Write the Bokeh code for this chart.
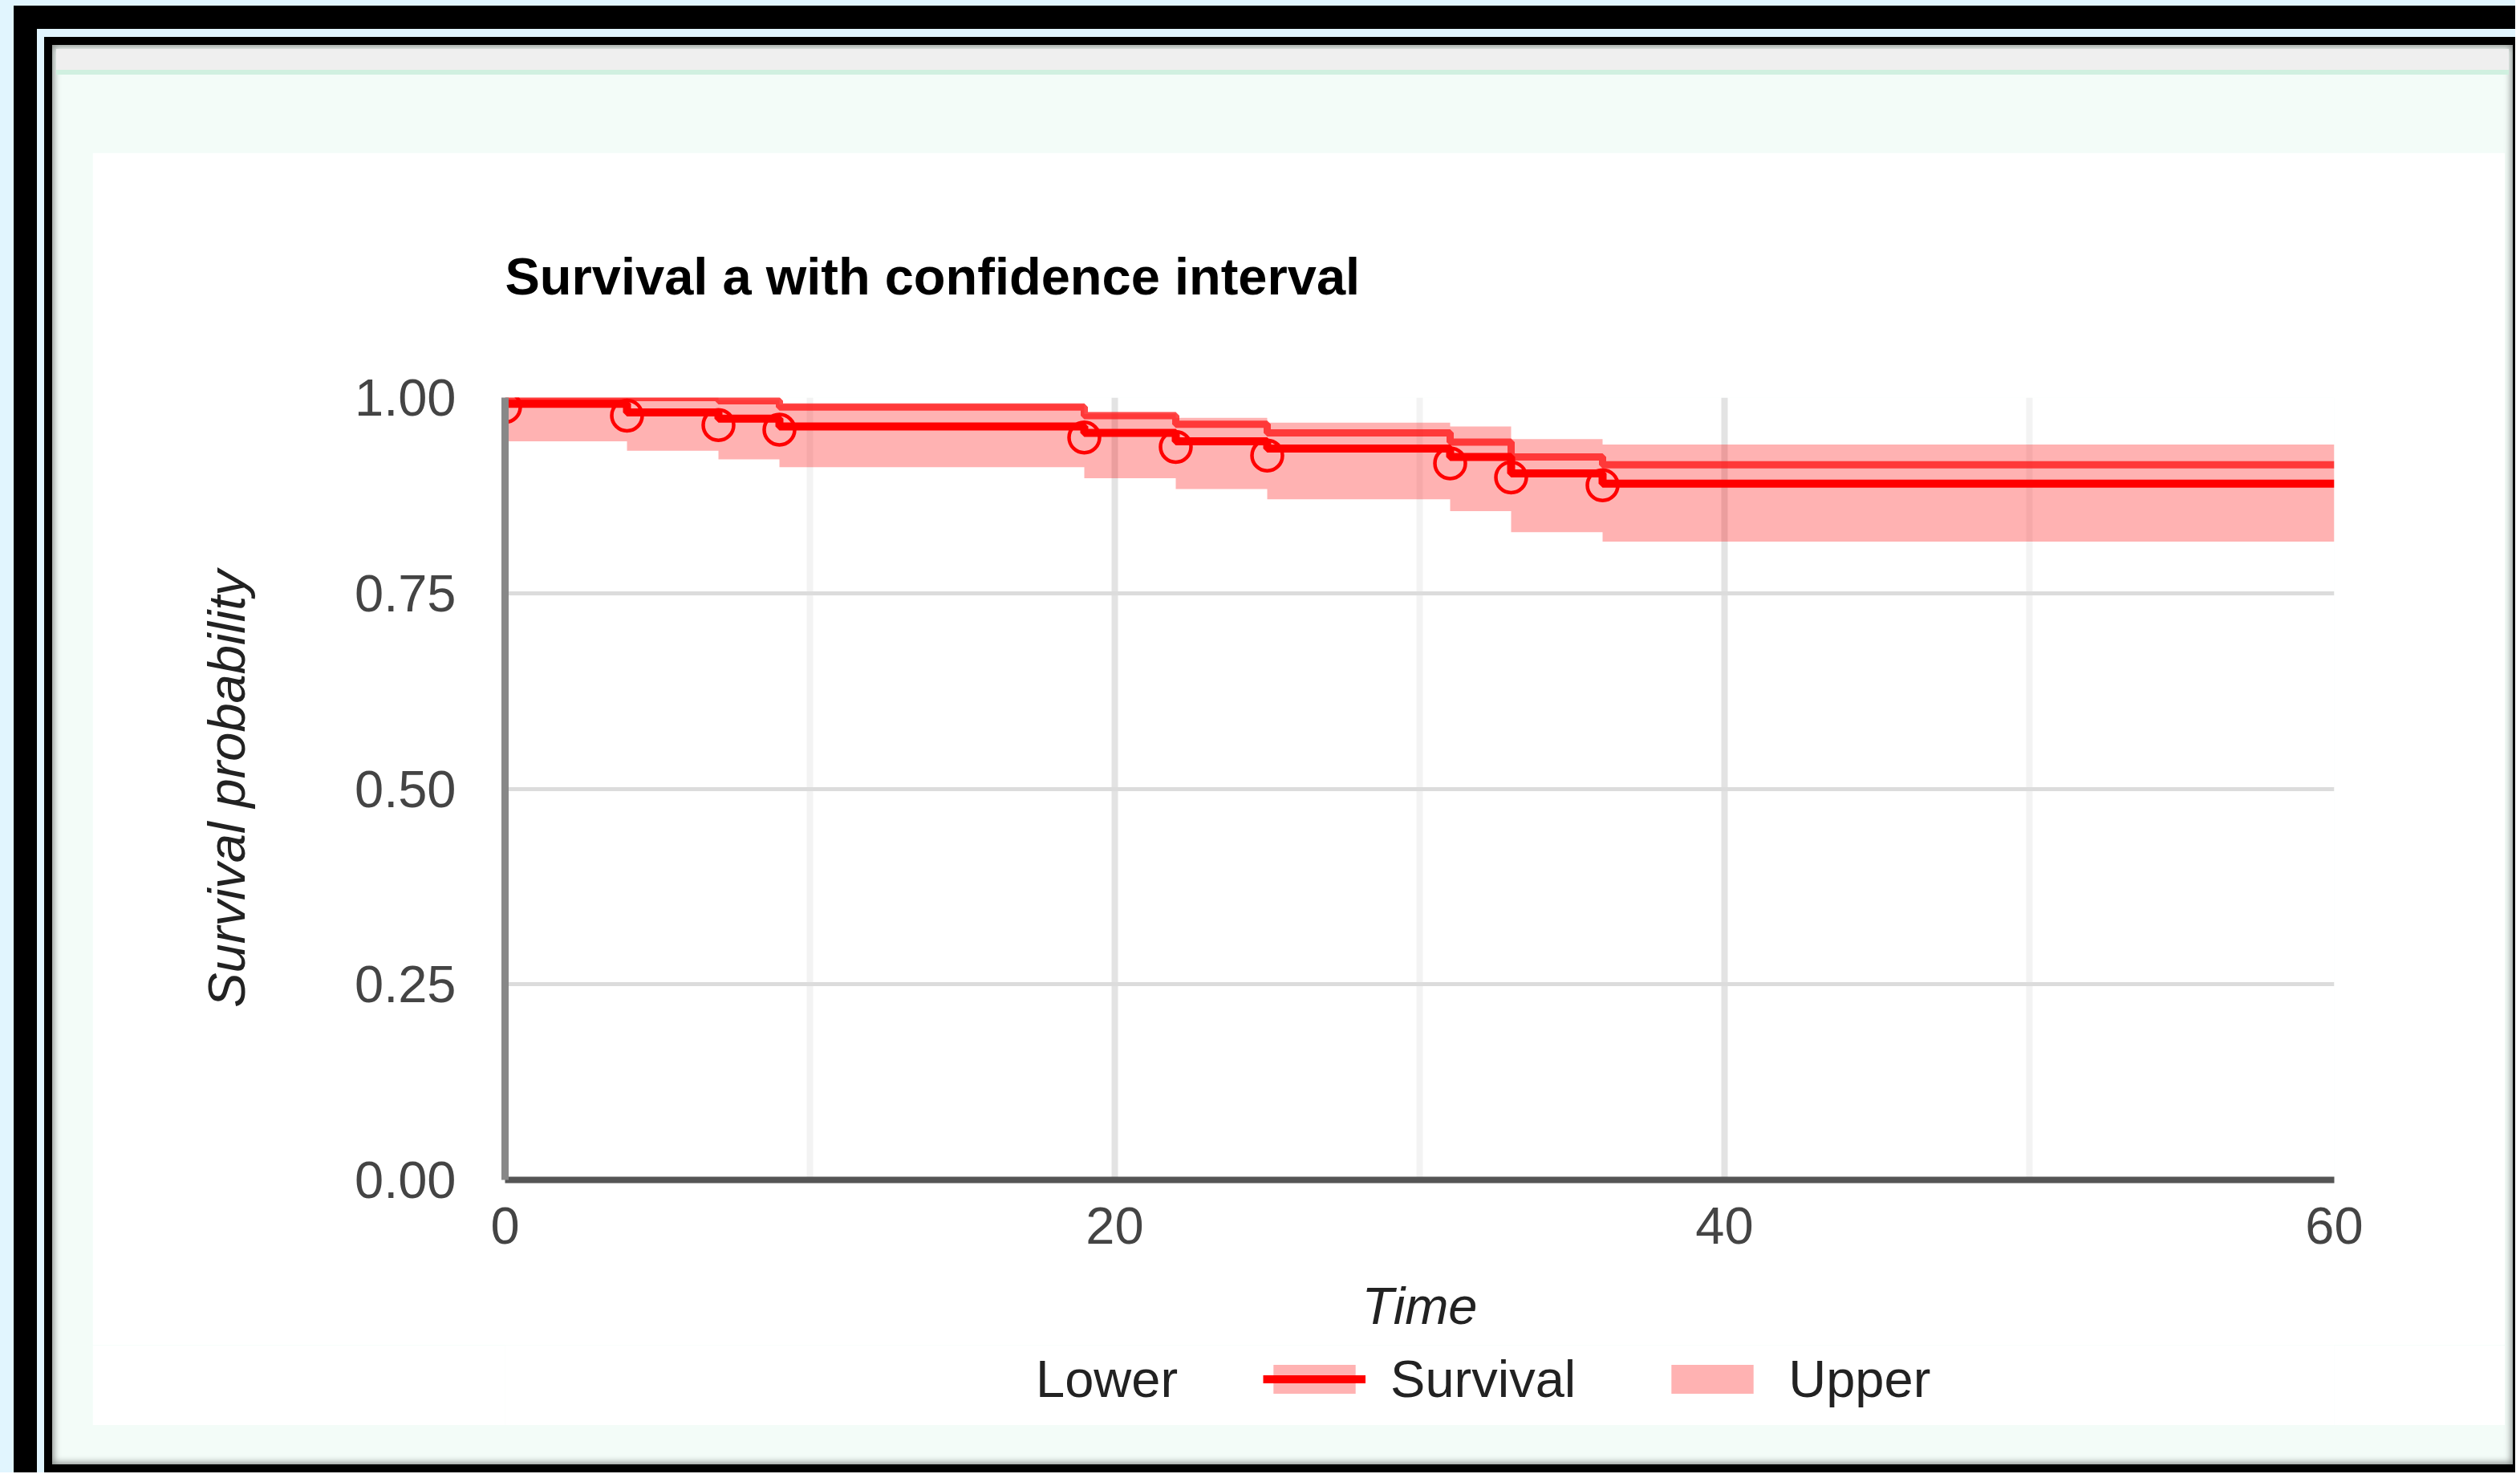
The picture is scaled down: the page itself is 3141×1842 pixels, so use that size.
from bokeh.plotting import figure
from bokeh.layouts import column, row
from bokeh.models import (Spacer, Div, FixedTicker, PrintfTickFormatter, Legend, LegendItem)
from bokeh.embed import file_html
from bokeh.resources import INLINE

# ---- data ----
step_times = [0, 4, 7, 9, 19, 22, 25, 31, 33, 36, 60]
survival = [0.992, 0.981, 0.973, 0.963, 0.955, 0.944, 0.935, 0.924, 0.903, 0.890, 0.890]
survival_shadow = [1.0, 1.0, 0.996, 0.988, 0.977, 0.966, 0.955, 0.943, 0.924, 0.914, 0.914]
upper = [1.0, 1.0, 0.997, 0.991, 0.979, 0.974, 0.968, 0.963, 0.947, 0.940, 0.940]
lower = [0.944, 0.932, 0.921, 0.911, 0.897, 0.883, 0.870, 0.855, 0.828, 0.816, 0.816]
censor_times = [0, 4, 7, 9, 19, 22, 25, 31, 33, 36]
censor_surv = [0.988, 0.977, 0.965, 0.959, 0.949, 0.937, 0.926, 0.916, 0.898, 0.888]
x_ticks = [0, 20, 40, 60]
x_minor = [10, 30, 50]
y_ticks = [0.0, 0.25, 0.5, 0.75, 1.0]
legend_labels = ["Lower", "Survival", "Upper"]

FONT = "Liberation Sans"
BAND = dict(fill_color="#ff0000", fill_alpha=0.3)
LINE = dict(line_color="#ff0000", line_width=10)

p = figure(width=3007, height=1486, output_backend="svg", toolbar_location=None,
           x_range=(0, 60), y_range=(0, 1.0),
           min_border_left=514, min_border_right=213, min_border_top=305, min_border_bottom=206)
p.background_fill_color = "white"
p.border_fill_color = "white"
p.outline_line_color = None

p.varea_step(x=step_times, y1=lower, y2=upper, step_mode="after", **BAND)
p.step(x=step_times, y=survival_shadow, mode="after", line_color="#ff1a1a",
       line_alpha=0.8, line_width=9)
p.step(x=step_times, y=survival, mode="after", **LINE)
p.scatter(x=censor_times, y=censor_surv, size=38, marker="circle", fill_alpha=0,
          line_color="#ff0000", line_width=4.5)

# axes
xa = p.xaxis[0]
xa.ticker = FixedTicker(ticks=x_ticks, minor_ticks=x_minor)
xa.axis_label = "Time"
ya = p.yaxis[0]
ya.ticker = FixedTicker(ticks=y_ticks)
ya.formatter = PrintfTickFormatter(format="%.2f")
ya.axis_label = "Survival probability"
for ax in (xa, ya):
    ax.major_tick_out = 0
    ax.major_tick_in = 0
    ax.minor_tick_out = 0
    ax.minor_tick_in = 0
    ax.major_label_text_font = FONT
    ax.major_label_text_font_size = "65px"
    ax.major_label_text_color = "#444444"
    ax.axis_label_text_font = FONT
    ax.axis_label_text_font_size = "65px"
    ax.axis_label_text_font_style = "italic"
    ax.axis_label_text_color = "#222222"
xa.axis_line_color = "#555555"
xa.axis_line_width = 8
ya.axis_line_color = "#888888"
ya.axis_line_width = 9
xa.major_label_standoff = 34
xa.axis_label_standoff = 38
ya.major_label_standoff = 61
ya.axis_label_standoff = 120

p.xgrid.grid_line_color = "#e3e3e3"
p.xgrid.grid_line_width = 8
p.xgrid.minor_grid_line_color = "#f3f3f3"
p.xgrid.minor_grid_line_width = 8
p.ygrid.grid_line_color = "#dcdcdc"
p.ygrid.grid_line_width = 5

p.title.text = "Survival a with confidence interval"
p.title.text_font = FONT
p.title.text_font_size = "65px"
p.title.text_font_style = "bold"
p.title.text_color = "#000000"
p.title.align = "left"
p.title.standoff = 230

# ---- legend strip (same styles as the chart's renderers) ----
lf = figure(width=3007, height=100, output_backend="svg", toolbar_location=None,
            x_range=(100, 200), y_range=(100, 200),
            min_border_left=0, min_border_right=0, min_border_top=0, min_border_bottom=0)
lf.axis.visible = False
lf.grid.visible = False
lf.outline_line_color = None
lf.background_fill_color = "white"
lf.border_fill_color = "white"
lower_proxy = lf.varea_step(x=step_times, y1=lower, y2=lower, step_mode="after",
                            fill_color="#ffffff", fill_alpha=0.0)
band_proxy = lf.varea_step(x=step_times, y1=lower, y2=upper, step_mode="after", **BAND)
line_proxy = lf.step(x=step_times, y=survival, mode="after", **LINE)

legend = Legend(items=[
    LegendItem(label=legend_labels[0], renderers=[lower_proxy]),
    LegendItem(label=legend_labels[1], renderers=[band_proxy, line_proxy]),
    LegendItem(label=legend_labels[2], renderers=[band_proxy]),
], orientation="horizontal", location=(503, 20))
legend.label_text_font = FONT
legend.label_text_font_size = "65px"
legend.label_text_color = "#222222"
legend.label_standoff = 31
legend.spacing = 106
legend.glyph_width = 128
legend.glyph_height = 45
legend.padding = 0
legend.margin = 0
legend.border_line_color = None
legend.background_fill_alpha = 0
lf.add_layout(legend, "center")

# ---- page frames ----
LB = "#E1F5FE"
topbar = Div(text="", width=3057, height=32,
             styles={"background": "linear-gradient(#EFEFEF 0px, #EFEFEF 26px, #D0F0E0 26px, #D0F0E0 32px)"})
mint = column(topbar,
              row(Spacer(width=50), column(Spacer(height=92), p, lf, Spacer(height=49))),
              styles={"background-color": "#F3FCF8",
                      "box-shadow": "inset 0 0 8px 2px rgba(0,0,0,0.45)"})
inner_black = column(Spacer(height=10), row(Spacer(width=10), mint, Spacer(width=3)), Spacer(height=10),
                     styles={"background-color": "#000000"})
lb_strip = column(Spacer(height=10), row(Spacer(width=9), inner_black),
                  styles={"background-color": LB})
outer_black = column(Spacer(height=29), row(Spacer(width=29), lb_strip),
                     styles={"background-color": "#000000"})
root = column(Spacer(height=7), row(Spacer(width=17), outer_black),
              styles={"background-color": LB})

open("out.html", "w").write(file_html(root, INLINE))
